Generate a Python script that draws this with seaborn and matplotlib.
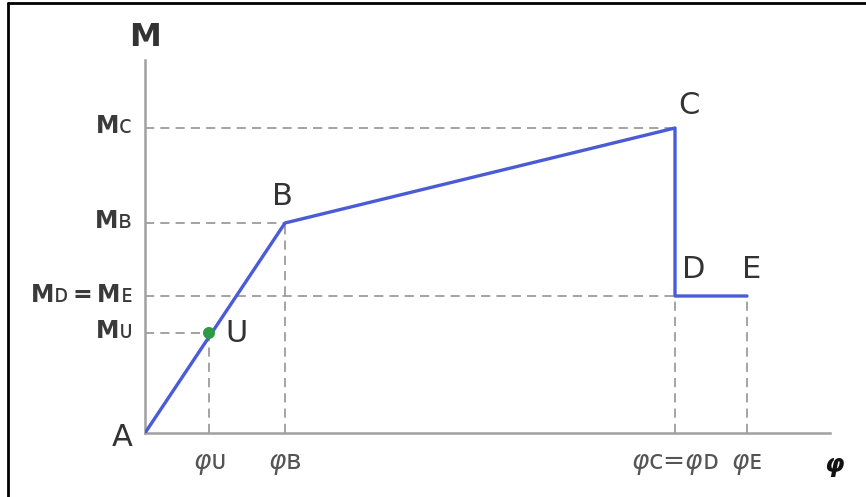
import matplotlib
matplotlib.use("Agg")
import matplotlib.pyplot as plt
import matplotlib.transforms as mtrans
from matplotlib.lines import Line2D
import seaborn as sns
import pandas as pd

# ---- data (arbitrary units) ----
point_names = ["A", "U", "B", "C", "D", "E"]
curvature = [0, 64, 140, 530, 530, 602]
moment = [0, 100, 210, 305, 137, 137]

curve_names = ["A", "B", "C", "D", "E"]
curve_phi = [0, 140, 530, 530, 602]
curve_m = [0, 210, 305, 137, 137]

u_phi = [64]
u_m = [100]

y_tick_vals = [305, 210, 137, 100]
y_tick_labels = [r"$\mathbf{M}$ᴄ", r"$\mathbf{M}$ʙ", r"$\mathbf{M}$ᴅ$\mathbf{=}$$\mathbf{M}$ᴇ", r"$\mathbf{M}$ᴜ"]
x_tick_vals = [64, 140, 530, 602]
x_tick_labels = [r"$\varphi$ᴜ", r"$\varphi$ʙ", r"$\varphi$ᴄ=$\varphi$ᴅ", r"$\varphi$ᴇ"]

# dashed guide lines: (phi, M) of the marked points
guide_phi = [64, 140, 530, 602]
guide_m = [100, 210, 305, 137]

x_max, y_max = 685, 373

sns.set_style("white")
plt.rcParams["font.family"] = ["DejaVu Sans"]
plt.rcParams["mathtext.fontset"] = "dejavusans"

W, H = 866, 497
fig = plt.figure(figsize=(W / 100, H / 100), dpi=100)
ax = fig.add_axes([145 / W, (H - 433) / H, 685 / W, 373 / H])

df = pd.DataFrame({"phi": curve_phi, "M": curve_m, "pt": curve_names})
# guides
ax.hlines(guide_m, 0, guide_phi, colors="#8a8a8a", linestyles=(0, (6, 4)), lw=1.1, zorder=1)
ax.vlines(guide_phi, 0, guide_m, colors="#8a8a8a", linestyles=(0, (6, 4)), lw=1.1, zorder=1)

sns.lineplot(data=df, x="phi", y="M", sort=False, estimator=None, color="#4a5bd6",
             lw=2.4, ax=ax, zorder=3)
sns.scatterplot(x=u_phi, y=u_m, color="#2f9a44", s=75, edgecolor="none", ax=ax, zorder=4)

ax.set_xlim(0, x_max)
ax.set_ylim(0, y_max)
for s in ["top", "right"]:
    ax.spines[s].set_visible(False)
for s in ["left", "bottom"]:
    ax.spines[s].set_color("#a0a0a0")
    ax.spines[s].set_linewidth(1.8)
ax.set_xlabel("")
ax.set_ylabel("")

ax.set_yticks(y_tick_vals, labels=y_tick_labels)
ax.set_xticks(x_tick_vals, labels=x_tick_labels)
ax.tick_params(axis="y", length=0, pad=9, labelsize=17, labelcolor="#3a3a3a")
ax.tick_params(axis="x", length=0, pad=13, labelsize=19, labelcolor="#555555")
off = mtrans.ScaledTranslation(0, 4 / 100, fig.dpi_scale_trans)
for lab in ax.get_yticklabels():
    lab.set_transform(lab.get_transform() + off)

# point labels
offsets = {"A": (-23, -4), "U": (28, 0), "B": (-3, 26), "C": (14, 22), "D": (19, 26), "E": (5, 26)}
for name, x, y in zip(point_names, curvature, moment):
    ax.annotate(name, (x, y), xytext=offsets[name], textcoords="offset pixels",
                ha="center", va="center", fontsize=22, color="#333333")

# axis names
ax.annotate("M", (0, y_max), xytext=(0, 22), textcoords="offset pixels",
            ha="center", va="center", fontsize=23, fontweight="bold", color="#333333",
            annotation_clip=False)
ax.annotate("φ", (x_max, 0), xytext=(4, -32), textcoords="offset pixels",
            ha="center", va="center", fontsize=18, fontweight="bold", style="italic",
            color="#111111", annotation_clip=False)

# frame around the picture (left and top)
fig.add_artist(Line2D([8 / W, 8 / W], [0, 1 - 3 / H], transform=fig.transFigure,
                      color="black", lw=2))
fig.add_artist(Line2D([8 / W, 1], [1 - 3 / H, 1 - 3 / H], transform=fig.transFigure,
                      color="black", lw=2))

fig.savefig("out.png", dpi=100)
